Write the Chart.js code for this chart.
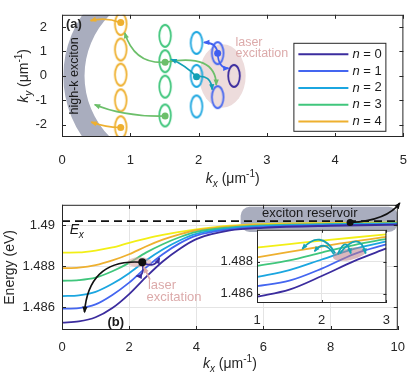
<!DOCTYPE html>
<html>
<head>
<meta charset="utf-8">
<script src="https://cdn.jsdelivr.net/npm/chart.js@4.4.1/dist/chart.umd.min.js"></script>
<style>
  html, body { margin: 0; padding: 0; background: #fff; }
  #wrap { position: relative; width: 415px; height: 385px; overflow: hidden; }
  canvas { position: absolute; }
</style>
</head>
<body>
<div id="wrap">
  <canvas id="ca" width="415" height="190" style="left:0;top:0"></canvas>
  <canvas id="cb" width="415" height="195" style="left:0;top:190px"></canvas>
  <canvas id="ci" width="195" height="110" style="left:205px;top:218px"></canvas>
</div>
<script>
// ---- data ----
const levelNames = ['n = 0', 'n = 1', 'n = 2', 'n = 3', 'n = 4'];
const levelColors = ['#3b2c9e', '#4466f0', '#1ba6e0', '#40c67c', '#eeb02f'];
const arrowColors = ['#3b2c9e', '#3f5ff0', '#12a0b5', '#6cbf6a', '#eeb02f'];
const yellowColor = '#f2ef16';

// (a) k-space rings
const ringKx = [2.52, 2.28, 1.97, 1.51, 0.86];
const ringKy = [[0], [0.93, -0.87], [1.35, 0, -1.25], [1.64, 0.6, -0.44, -1.62], [2.12, 1.08, 0.05, -1.0, -2.1]];
const dotKx = [0.86, 0.86, 1.51, 1.51, 1.97, 2.28];
const dotKy = [2.18, -2.11, 0.56, -1.64, -0.03, 0.93];
const dotLevel = [4, 4, 3, 3, 2, 1];
// scattering arrows: start, control, end, level
const hopsA = [
  [0.86, 2.18, 0.64, 2.42, 0.42, 2.26, 4],
  [0.86, -2.11, 0.66, -2.12, 0.43, -1.89, 4],
  [1.51, 0.56, 1.06, 0.48, 0.92, 1.76, 3],
  [1.51, -1.64, 0.92, -1.68, 0.48, -1.18, 3],
  [1.51, 0.56, 2.25, 0.95, 2.26, -0.37, 3],
  [1.97, -0.03, 1.80, 0.45, 1.60, 0.68, 2],
  [1.97, -0.03, 2.18, 0.07, 2.20, -0.56, 2],
  [2.28, 0.93, 2.26, 1.37, 2.08, 1.37, 1],
  [2.28, 0.93, 2.29, 0.31, 2.44, 0.31, 1]
];
const kxTicksA = [0, 1, 2, 3, 4, 5];
const kyTicksA = [-2, -1, 0, 1, 2];

// (b) dispersion
const EX = 1.4902;
const kxMain = [0, 0.5, 1, 1.5, 2, 2.5, 3, 3.5, 4, 5, 6, 8, 10];
const e0 = [1.48526, 1.48532, 1.48552, 1.48597, 1.48665, 1.48748, 1.48824, 1.48885, 1.48933, 1.48975, 1.48988, 1.48998, 1.49003];
const e1 = [1.48594, 1.48597, 1.48615, 1.48661, 1.48721, 1.48794, 1.48859, 1.48912, 1.4895, 1.4898, 1.48992, 1.49001, 1.49005];
const e2 = [1.48655, 1.48659, 1.48676, 1.48715, 1.48767, 1.48829, 1.48882, 1.48926, 1.48958, 1.48985, 1.48996, 1.49004, 1.49008];
const e3 = [1.4873, 1.48733, 1.48745, 1.48776, 1.48817, 1.48867, 1.48908, 1.48942, 1.48968, 1.4899, 1.49, 1.49007, 1.4901];
const e4 = [1.48791, 1.48794, 1.48806, 1.48829, 1.48859, 1.48897, 1.4893, 1.48956, 1.48976, 1.48995, 1.49003, 1.49009, 1.49012];
const e5 = [1.48867, 1.48868, 1.48877, 1.48892, 1.48915, 1.48935, 1.48953, 1.48968, 1.4898, 1.48998, 1.49006, 1.49011, 1.49014];
const kxTicksB = [0, 2, 4, 6, 8, 10];
const eTicksB = [1.486, 1.488, 1.49];
const hopsB = [
  [2.39, 1.4882, 0.80, 1.4884, 0.67, 1.48577, '#111111'],
  [2.39, 1.4882, 2.75, 1.48786, 2.90, 1.4884, '#3b2c9e'],
  [2.39, 1.4882, 2.48, 1.48749, 2.22, 1.48753, '#3b2c9e'],
  [8.58, 1.49014, 9.68, 1.49023, 10.06, 1.49109, '#111111']
];

// inset
const kxInset = [1, 1.5, 2, 2.5, 3];
const i0 = [1.48581, 1.48625, 1.4871, 1.48803, 1.48882];
const i1 = [1.48647, 1.48681, 1.48756, 1.48847, 1.48907];
const i2 = [1.48704, 1.48747, 1.48813, 1.48879, 1.48926];
const i3 = [1.48773, 1.48807, 1.48856, 1.48903, 1.48941];
const i4 = [1.48826, 1.4886, 1.48894, 1.48926, 1.48954];
const i5 = [1.48888, 1.48909, 1.4893, 1.4895, 1.48969];
const kxTicksI = [1, 2, 3];
const eTicksI = [1.486, 1.488];
// start, peak, end
const hopsI = [
  [2.21, 1.48851, 1.97, 1.48936, 1.70, 1.48879],
  [2.19, 1.48845, 2.04, 1.48898, 1.89, 1.48864],
  [2.25, 1.48845, 2.36, 1.48907, 2.45, 1.48851],
  [2.28, 1.48851, 2.53, 1.48926, 2.68, 1.48851]
];

// ---- helpers ----
const FONT = '"Liberation Sans", Arial, Helvetica, sans-serif';
Chart.defaults.font.family = FONT;
Chart.defaults.font.size = 13;
Chart.defaults.color = '#262626';

const fixedTicks = vals => s => { s.ticks = vals.map(v => ({ value: v })); };
const seriesColors = [...levelColors, yellowColor];

function P(chart, x, y) {
  return [chart.scales.x.getPixelForValue(x), chart.scales.y.getPixelForValue(y)];
}

function drawFrame(chart, len) {
  const { ctx, chartArea: a, scales: { x, y } } = chart;
  ctx.save();
  ctx.strokeStyle = '#262626';
  ctx.lineWidth = 1;
  ctx.strokeRect(a.left + 0.5, a.top + 0.5, a.right - a.left - 1, a.bottom - a.top - 1);
  ctx.beginPath();
  x.ticks.forEach(t => {
    const p = Math.round(x.getPixelForValue(t.value)) + 0.5;
    ctx.moveTo(p, a.bottom); ctx.lineTo(p, a.bottom - len);
    ctx.moveTo(p, a.top); ctx.lineTo(p, a.top + len);
  });
  y.ticks.forEach(t => {
    const p = Math.round(y.getPixelForValue(t.value)) + 0.5;
    ctx.moveTo(a.left, p); ctx.lineTo(a.left + len, p);
    ctx.moveTo(a.right, p); ctx.lineTo(a.right - len, p);
  });
  ctx.stroke();
  ctx.restore();
}

function drawTitle(ctx, parts, x, y, rot) {
  ctx.save();
  ctx.translate(x, y);
  if (rot) ctx.rotate(-Math.PI / 2);
  let w = 0;
  parts.forEach(p => { ctx.font = p.f; w += ctx.measureText(p.t).width; });
  let cx = -w / 2;
  ctx.textAlign = 'left';
  ctx.textBaseline = 'alphabetic';
  ctx.fillStyle = '#262626';
  parts.forEach(p => {
    ctx.font = p.f;
    ctx.fillText(p.t, cx, p.dy || 0);
    cx += ctx.measureText(p.t).width;
  });
  ctx.restore();
}
const kTitle = sub => [
  { t: 'k', f: 'italic 14px ' + FONT },
  { t: sub, f: 'italic 10px ' + FONT, dy: 4 },
  { t: ' (μm', f: '14px ' + FONT },
  { t: '-1', f: '10px ' + FONT, dy: -6 },
  { t: ')', f: '14px ' + FONT }
];

function arrow(ctx, p0, c, p1, color, w, head) {
  ctx.save();
  ctx.strokeStyle = color;
  ctx.fillStyle = color;
  ctx.lineWidth = w;
  ctx.beginPath();
  ctx.moveTo(p0[0], p0[1]);
  ctx.quadraticCurveTo(c[0], c[1], p1[0], p1[1]);
  ctx.stroke();
  const ang = Math.atan2(p1[1] - c[1], p1[0] - c[0]);
  ctx.beginPath();
  ctx.moveTo(p1[0] + Math.cos(ang), p1[1] + Math.sin(ang));
  ctx.lineTo(p1[0] - head * Math.cos(ang - 0.45), p1[1] - head * Math.sin(ang - 0.45));
  ctx.lineTo(p1[0] - head * Math.cos(ang + 0.45), p1[1] - head * Math.sin(ang + 0.45));
  ctx.closePath();
  ctx.fill();
  ctx.restore();
}

function ringImage(color) {
  const c = document.createElement('canvas');
  c.width = 16; c.height = 26;
  const g = c.getContext('2d');
  g.strokeStyle = color;
  g.lineWidth = 1.8;
  g.beginPath();
  g.ellipse(8, 13, 5.8, 11, 0, 0, Math.PI * 2);
  g.stroke();
  return c;
}

// ---- panel (a) ----
const panelA = {
  id: 'panelA',
  beforeDatasetsDraw(chart) {
    const { ctx, chartArea: a, scales: { x } } = chart;
    // high-k exciton band
    const [x0, yc] = P(chart, 0.02, 0);
    const [x1, yt] = P(chart, 0.30, 2.5);
    const dx = x1 - x0, dy = yc - yt;
    const R = (dx * dx + dy * dy) / (2 * dx);
    const cx = x0 + R;
    const t = x.getPixelForValue(0.31) - x.getPixelForValue(0);
    ctx.save();
    ctx.beginPath();
    ctx.rect(a.left, a.top, cx - a.left, a.bottom - a.top);
    ctx.clip();
    ctx.beginPath();
    ctx.arc(cx, yc, R, 0, Math.PI * 2);
    ctx.moveTo(cx + R - t, yc);
    ctx.arc(cx, yc, R - t, 0, Math.PI * 2);
    ctx.fillStyle = '#a9adbe';
    ctx.fill('evenodd');
    ctx.restore();
    // laser spot
    const [lx, ly] = P(chart, 2.35, 0);
    const rx = x.getPixelForValue(0.34) - x.getPixelForValue(0);
    const ry = chart.scales.y.getPixelForValue(0) - chart.scales.y.getPixelForValue(1.3);
    ctx.save();
    ctx.fillStyle = '#eddcdc';
    ctx.beginPath();
    ctx.ellipse(lx, ly, rx, ry, 0, 0, Math.PI * 2);
    ctx.fill();
    ctx.restore();
  },
  afterDraw(chart) {
    const { ctx, chartArea: a } = chart;
    hopsA.forEach(h => arrow(ctx, P(chart, h[0], h[1]), P(chart, h[2], h[3]), P(chart, h[4], h[5]), arrowColors[h[6]], 1.7, 6));
    drawFrame(chart, 4);
    ctx.save();
    // labels inside
    ctx.font = 'bold 13px ' + FONT;
    ctx.fillStyle = '#262626';
    ctx.textBaseline = 'middle';
    ctx.textAlign = 'left';
    ctx.fillText('(a)', a.left + 4, a.top + 10);
    ctx.font = '12.5px ' + FONT;
    ctx.fillStyle = '#dcaaaa';
    let [tx, ty] = P(chart, 2.54, 1.37);
    ctx.fillText('laser', tx, ty);
    [tx, ty] = P(chart, 2.54, 0.93);
    ctx.fillText('excitation', tx, ty);
    // rotated band label
    const [hx, hy] = P(chart, 0.18, 0);
    ctx.translate(hx, hy);
    ctx.rotate(-Math.PI / 2);
    ctx.textAlign = 'center';
    ctx.fillStyle = '#1a1a1a';
    ctx.font = '12.5px ' + FONT;
    ctx.fillText('high-k exciton', 0, 0);
    ctx.restore();
    // legend
    ctx.save();
    const lx0 = a.right - 110, ly0 = a.top + 28, w = 92, h = 88;
    ctx.fillStyle = '#fff';
    ctx.fillRect(lx0, ly0, w, h);
    ctx.strokeStyle = '#262626';
    ctx.lineWidth = 1;
    ctx.strokeRect(lx0 + 0.5, ly0 + 0.5, w, h);
    ctx.textBaseline = 'middle';
    ctx.textAlign = 'left';
    levelNames.forEach((nm, i) => {
      const yy = ly0 + 11.5 + i * 16.8;
      ctx.strokeStyle = levelColors[i];
      ctx.lineWidth = 2;
      ctx.beginPath();
      ctx.moveTo(lx0 + 5, yy); ctx.lineTo(lx0 + 55, yy);
      ctx.stroke();
      ctx.fillStyle = '#1a1a1a';
      ctx.font = 'italic 13px ' + FONT;
      ctx.fillText(nm[0], lx0 + 59, yy);
      const nw = ctx.measureText(nm[0]).width;
      ctx.font = '13px ' + FONT;
      ctx.fillText(nm.slice(1), lx0 + 59 + nw, yy);
    });
    ctx.restore();
    drawTitle(ctx, kTitle('x'), (a.left + a.right) / 2, 183, false);
    drawTitle(ctx, kTitle('y'), 28, (a.top + a.bottom) / 2, true);
  }
};

new Chart(document.getElementById('ca'), {
  type: 'scatter',
  data: {
    datasets: [
      ...ringKx.map((k, i) => ({
        data: ringKy[i].map(v => ({ x: k, y: v })),
        pointStyle: ringImage(levelColors[i]),
        pointRadius: 8
      })),
      {
        data: dotKx.map((k, i) => ({ x: k, y: dotKy[i] })),
        pointRadius: 3.5,
        pointBorderWidth: 0,
        pointBackgroundColor: dotLevel.map(l => arrowColors[l]),
        pointBorderColor: dotLevel.map(l => arrowColors[l])
      }
    ]
  },
  options: {
    responsive: false, animation: false, events: [],
    layout: { padding: { top: 3, right: 9, left: 0, bottom: 0 } },
    plugins: { legend: { display: false }, tooltip: { enabled: false } },
    scales: {
      x: { type: 'linear', min: 0, max: 5, afterBuildTicks: fixedTicks(kxTicksA), afterFit: s => { s.height = 53; },
           grid: { display: false }, border: { display: false }, ticks: { padding: 8 } },
      y: { min: -2.5, max: 2.5, afterBuildTicks: fixedTicks(kyTicksA), afterFit: s => { s.width = 62; },
           grid: { display: false }, border: { display: false }, ticks: { padding: 7 } }
    }
  },
  plugins: [panelA]
});

// ---- panel (b) ----
const panelB = {
  id: 'panelB',
  beforeDatasetsDraw(chart) {
    const { ctx, chartArea: a } = chart;
    const [bx0, by0] = P(chart, 5.32, 1.4909);
    const [bx1, by1] = P(chart, 10, 1.48968);
    ctx.save();
    ctx.fillStyle = '#a9adbe';
    ctx.beginPath();
    ctx.roundRect(bx0, by0, Math.min(bx1, a.right) - bx0, by1 - by0, 9);
    ctx.fill();
    ctx.restore();
  },
  afterDraw(chart) {
    const { ctx, chartArea: a, scales: { x, y } } = chart;
    drawFrame(chart, 4);
    ctx.save();
    // laser spot
    const [sx, sy] = P(chart, 2.31, 1.4882);
    ctx.fillStyle = 'rgba(214,160,160,0.55)';
    ctx.beginPath();
    ctx.ellipse(sx, sy, x.getPixelForValue(0.36) - x.getPixelForValue(0), 5, 0, 0, Math.PI * 2);
    ctx.fill();
    ctx.restore();
    hopsB.forEach(h => arrow(ctx, P(chart, h[0], h[1]), P(chart, h[2], h[3]), P(chart, h[4], h[5]), h[6], 1.7, 6));
    arrow(ctx, P(chart, 2.62, 1.48736), P(chart, 2.53, 1.48766), P(chart, 2.44, 1.48795), '#dca8a8', 1.7, 6);
    ctx.save();
    ctx.fillStyle = '#111';
    [[2.39, 1.4882, 4], [8.58, 1.49014, 3.5]].forEach(d => {
      const [dx, dy] = P(chart, d[0], d[1]);
      ctx.beginPath(); ctx.arc(dx, dy, d[2], 0, Math.PI * 2); ctx.fill();
    });
    ctx.textBaseline = 'middle';
    ctx.textAlign = 'left';
    ctx.font = '13px ' + FONT;
    ctx.fillStyle = '#dcaaaa';
    let [tx, ty] = P(chart, 2.56, 1.48705);
    ctx.fillText('laser', tx, ty);
    [tx, ty] = P(chart, 2.52, 1.4865);
    ctx.fillText('excitation', tx, ty);
    ctx.fillStyle = '#1a1a1a';
    ctx.textAlign = 'center';
    [tx, ty] = P(chart, 7.38, 1.4906);
    ctx.fillText('exciton reservoir', tx, ty);
    ctx.font = 'bold 13px ' + FONT;
    [tx, ty] = P(chart, 1.6, 1.48527);
    ctx.fillText('(b)', tx, ty);
    // E_x label
    ctx.textAlign = 'left';
    ctx.textBaseline = 'alphabetic';
    [tx, ty] = P(chart, 0.23, 1.48959);
    ctx.font = 'italic 14px ' + FONT;
    ctx.fillText('E', tx, ty);
    ctx.font = 'italic 10px ' + FONT;
    ctx.fillText('x', tx + 9, ty + 4);
    ctx.restore();
    drawTitle(ctx, kTitle('x'), (a.left + a.right) / 2, 178, false);
    drawTitle(ctx, [{ t: 'Energy (eV)', f: '14px ' + FONT }], 14, (a.top + a.bottom) / 2, true);
  }
};

new Chart(document.getElementById('cb'), {
  type: 'line',
  data: {
    datasets: [
      { data: [{ x: 0, y: EX }, { x: 10, y: EX }], borderColor: '#111', borderWidth: 1.8, borderDash: [8, 5], pointRadius: 0 },
      ...[e0, e1, e2, e3, e4, e5].map((s, i) => ({
        data: kxMain.map((k, j) => ({ x: k, y: s[j] })),
        borderColor: seriesColors[i],
        borderWidth: 1.8,
        pointRadius: 0,
        cubicInterpolationMode: 'monotone'
      }))
    ]
  },
  options: {
    responsive: false, animation: false, events: [],
    layout: { padding: { top: 5, right: 9, left: 0, bottom: 0 } },
    plugins: { legend: { display: false }, tooltip: { enabled: false } },
    scales: {
      x: { type: 'linear', min: 0, max: 10, afterBuildTicks: fixedTicks(kxTicksB), afterFit: s => { s.height = 55; },
           grid: { color: '#e4e4e4', drawTicks: false }, border: { display: false }, ticks: { padding: 10 } },
      y: { min: 1.4849, max: 1.4910, afterBuildTicks: fixedTicks(eTicksB), afterFit: s => { s.width = 62; },
           grid: { color: '#e4e4e4', drawTicks: false }, border: { display: false },
           ticks: { padding: 7, callback: v => String(+v.toFixed(3)) } }
    }
  },
  plugins: [panelB]
});

// ---- inset ----
const panelI = {
  id: 'panelI',
  beforeDraw(chart) {
    const { ctx, chartArea: a } = chart;
    ctx.save();
    ctx.fillStyle = '#fff';
    ctx.fillRect(a.left, a.top, a.right - a.left, a.bottom - a.top);
    ctx.restore();
  },
  afterDraw(chart) {
    const { ctx, scales: { x } } = chart;
    drawFrame(chart, 3);
    const [sx, sy] = P(chart, 2.43, 1.48847);
    ctx.save();
    ctx.fillStyle = 'rgba(190,125,135,0.55)';
    ctx.beginPath();
    ctx.ellipse(sx, sy, x.getPixelForValue(1.26) - x.getPixelForValue(1), 6, -0.2, 0, Math.PI * 2);
    ctx.fill();
    ctx.restore();
    hopsI.forEach(h => {
      const s = P(chart, h[0], h[1]), pk = P(chart, h[2], h[3]), e = P(chart, h[4], h[5]);
      const c = [2 * pk[0] - (s[0] + e[0]) / 2, 2 * pk[1] - (s[1] + e[1]) / 2];
      arrow(ctx, s, c, e, '#17a3b5', 1.8, 5.5);
    });
  }
};

new Chart(document.getElementById('ci'), {
  type: 'line',
  data: {
    datasets: [i0, i1, i2, i3, i4, i5].map((s, i) => ({
      data: kxInset.map((k, j) => ({ x: k, y: s[j] })),
      borderColor: seriesColors[i],
      borderWidth: 1.8,
      pointRadius: 0,
      cubicInterpolationMode: 'monotone'
    }))
  },
  options: {
    responsive: false, animation: false, events: [],
    layout: { padding: { top: 4, right: 6, left: 0, bottom: 0 } },
    plugins: { legend: { display: false }, tooltip: { enabled: false } },
    scales: {
      x: { type: 'linear', min: 1, max: 3, afterBuildTicks: fixedTicks(kxTicksI), afterFit: s => { s.height = 25; },
           grid: { color: '#e4e4e4', drawTicks: false }, border: { display: false }, ticks: { padding: 10 } },
      y: { min: 1.48542, max: 1.48998, afterBuildTicks: fixedTicks(eTicksI), afterFit: s => { s.width = 52; },
           grid: { color: '#e4e4e4', drawTicks: false }, border: { display: false },
           ticks: { padding: 4, callback: v => String(+v.toFixed(3)) } }
    }
  },
  plugins: [panelI]
});
</script>
</body>
</html>
